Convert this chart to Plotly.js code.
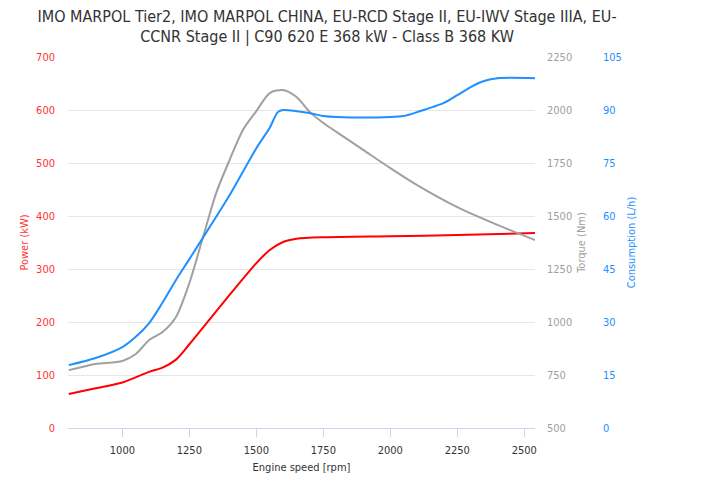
<!DOCTYPE html>
<html><head><meta charset="utf-8">
<script src="https://cdn.plot.ly/plotly-3.0.1.min.js"></script>
<style>html,body{margin:0;padding:0;background:#fff}#c{width:722px;height:482px}</style>
</head><body><div id="c"></div>
<script>
const titleText = 'IMO MARPOL Tier2, IMO MARPOL CHINA, EU-RCD Stage II, EU-IWV Stage IIIA, EU-<br>CCNR Stage II | C90 620 E 368 kW - Class B 368 KW';

const powerRpm = [800, 900, 1000, 1100, 1150, 1200, 1250, 1300, 1400, 1500, 1550, 1600, 1650, 1750, 2000, 2250, 2540];
const powerKw  = [64, 75, 86, 106, 114, 129, 158, 189, 251, 311, 336, 351, 357, 360, 362, 364, 368];

const torqueRpm = [800, 900, 1000, 1050, 1100, 1150, 1200, 1250, 1300, 1350, 1400, 1450, 1500, 1550, 1600, 1650, 1700, 1750, 1800, 1900, 2000, 2100, 2250, 2400, 2540];
const torqueNm  = [773, 802, 816, 849, 915, 953, 1024, 1184, 1396, 1608, 1764, 1906, 1995, 2080, 2094, 2061, 1990, 1939, 1896, 1811, 1726, 1646, 1542, 1458, 1387];

const consRpm = [800, 900, 1000, 1050, 1100, 1150, 1200, 1250, 1300, 1400, 1500, 1550, 1580, 1600, 1700, 1750, 1800, 2000, 2050, 2100, 2200, 2250, 2300, 2350, 2400, 2540];
const consLh  = [17.8, 19.8, 22.9, 25.8, 29.7, 35.5, 41.9, 47.8, 53.8, 65.9, 79.2, 85, 89.4, 90, 89.1, 88.3, 88.0, 88.0, 88.3, 89.4, 92, 94.2, 96.5, 98.2, 99, 99];

const FONT = 'DejaVu Sans Condensed, DejaVu Sans, sans-serif';
const traces = [
  {x: powerRpm, y: powerKw, type: 'scatter', mode: 'lines', name: 'Power', yaxis: 'y',
   line: {color: '#ff0000', width: 2, shape: 'spline', smoothing: 0.8}},
  {x: torqueRpm, y: torqueNm, type: 'scatter', mode: 'lines', name: 'Torque', yaxis: 'y2',
   line: {color: '#a0a0a0', width: 2, shape: 'spline', smoothing: 0.8}},
  {x: consRpm, y: consLh, type: 'scatter', mode: 'lines', name: 'Consumption', yaxis: 'y3',
   line: {color: '#1e90ff', width: 2, shape: 'spline', smoothing: 0.8}}
];

const layout = {
  width: 722, height: 482,
  margin: {l: 68, r: 80, t: 57, b: 54},
  paper_bgcolor: '#fff', plot_bgcolor: '#fff',
  showlegend: false,
  font: {family: FONT, size: 11, color: '#333'},
  title: {text: titleText, font: {family: FONT, size: 16, color: '#333'},
          x: 0.453, xanchor: 'center', xref: 'container', y: 0.955, yanchor: 'top', yref: 'container'},
  xaxis: {domain: [0, 0.8136], range: [797, 2540], tickvals: [1000,1250,1500,1750,2000,2250,2500],
          showgrid: false, zeroline: false, showline: true, linecolor: '#ccd6eb', linewidth: 1,
          ticks: 'outside', ticklen: 8, tickcolor: '#ccd6eb', ticklabelstandoff: 4,
          tickfont: {size: 11, color: '#333'},
          title: {text: 'Engine speed [rpm]', font: {size: 11, color: '#333'}, standoff: 7}},
  yaxis: {range: [0, 700], dtick: 100, showgrid: true, gridcolor: '#e6e6e6', zeroline: false,
          tickfont: {size: 11, color: '#ff3333'}, ticklabelstandoff: 12,
          title: {text: 'Power (kW)', font: {size: 11, color: '#ff3333'}, standoff: 5}},
  yaxis2: {overlaying: 'y', side: 'right', anchor: 'x', range: [500, 2250], dtick: 250,
           showgrid: false, zeroline: false, tickfont: {size: 11, color: '#a0a0a0'}, ticklabelstandoff: 11,
           title: {text: 'Torque (Nm)', font: {size: 11, color: '#a0a0a0'}, standoff: 6}},
  yaxis3: {overlaying: 'y', side: 'right', anchor: 'free', position: 0.9164, range: [0, 105], dtick: 15,
           showgrid: false, zeroline: false, showline: false, tickfont: {size: 11, color: '#1e90ff'}, ticklabelstandoff: 8,
           title: {text: 'Consumption (L/h)', font: {size: 11, color: '#1e90ff'}, standoff: 6}}
};

Plotly.newPlot('c', traces, layout, {displayModeBar: false, staticPlot: true});
</script></body></html>
